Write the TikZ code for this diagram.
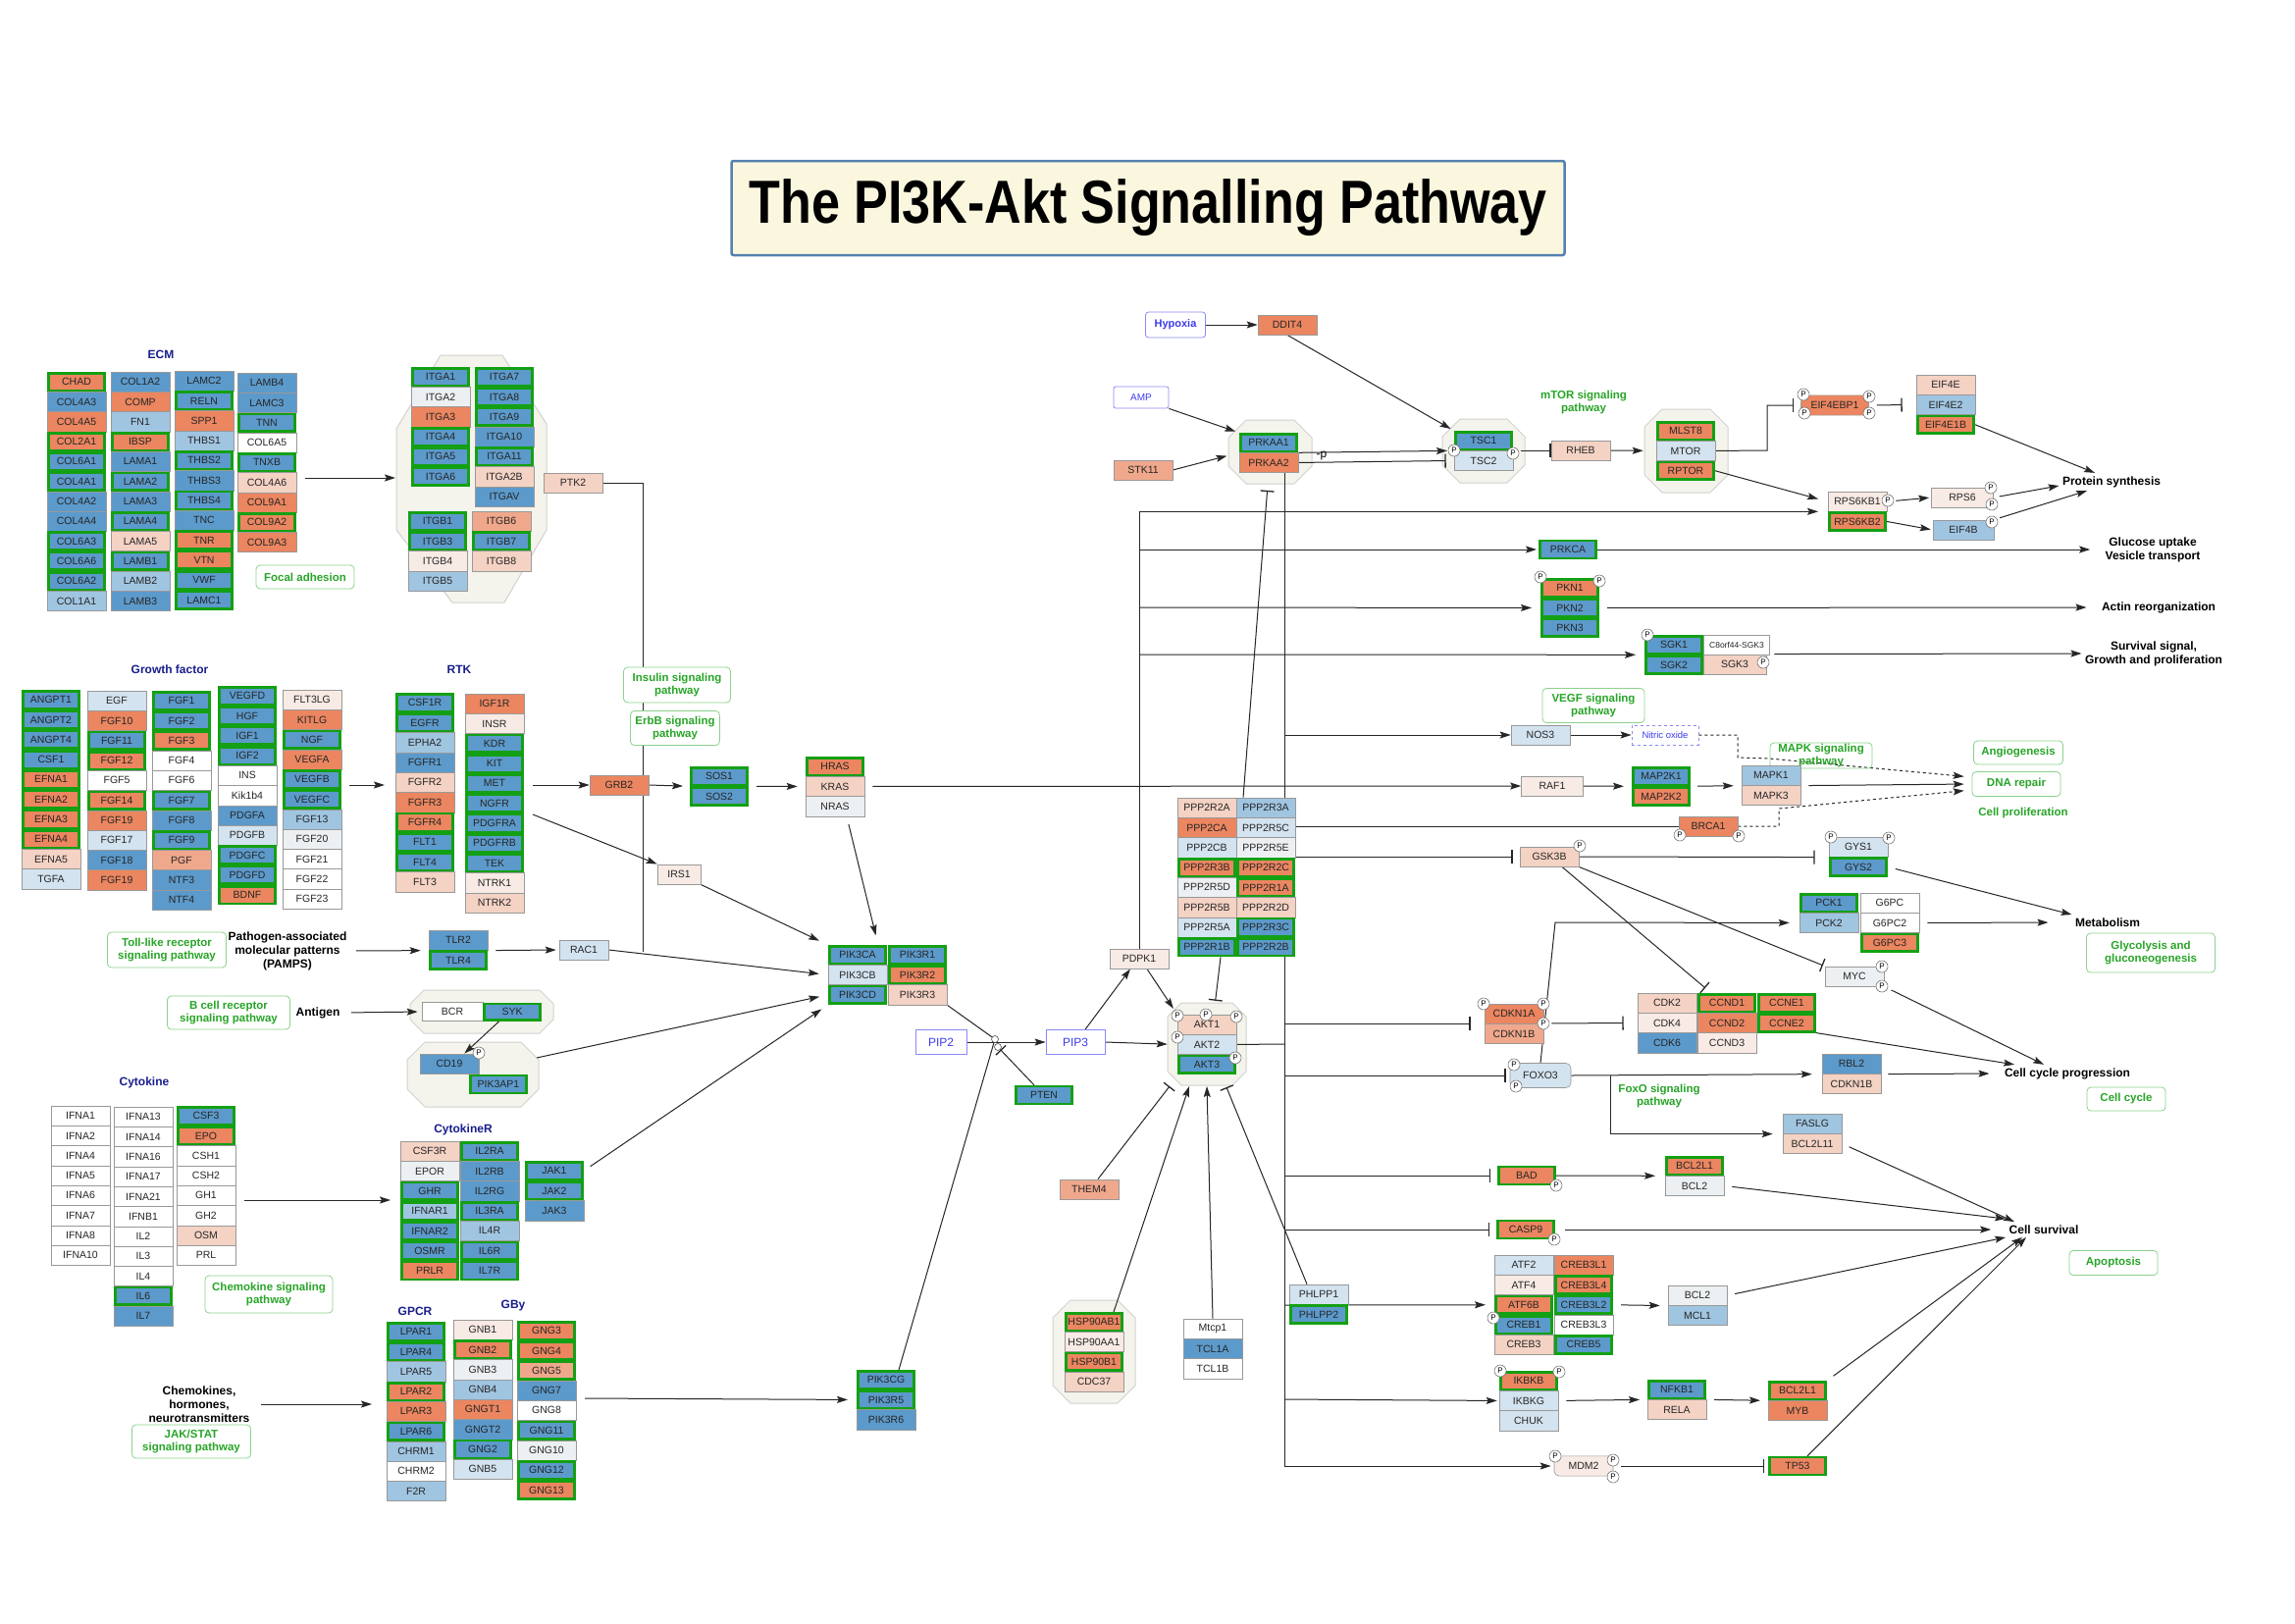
\documentclass[tikz,border=0pt]{standalone}
\usepackage{fontspec}
\setmainfont{Liberation Sans}
\usepackage{graphicx}
\usetikzlibrary{arrows.meta,positioning}
\definecolor{cbl}{RGB}{92,154,203}
\definecolor{clb}{RGB}{160,197,225}
\definecolor{cpb}{RGB}{211,227,239}
\definecolor{cvb}{RGB}{236,240,243}
\definecolor{cor}{RGB}{235,134,96}
\definecolor{cso}{RGB}{240,168,140}
\definecolor{cpk}{RGB}{244,210,196}
\definecolor{cvp}{RGB}{248,234,228}
\definecolor{cwh}{RGB}{255,255,255}
\definecolor{kgreen}{RGB}{20,160,20}
\definecolor{pwgreen}{RGB}{40,165,40}
\definecolor{pwedge}{RGB}{140,210,140}
\definecolor{navy}{RGB}{25,30,140}
\definecolor{molblue}{RGB}{60,60,235}
\definecolor{cream}{RGB}{244,243,236}
\definecolor{titlebg}{RGB}{250,247,222}
\definecolor{titleedge}{RGB}{84,128,176}
\pgfdeclarelayer{back}
\pgfdeclarelayer{lines}
\pgfsetlayers{back,lines,main}
% a column of gene boxes: [prefix]{x}{top}{name/colour/greenframe,...}
\newcommand\gstack[4][]{%
  \foreach \g/\c/\f [count=\i from 0] in {#4} {%
    \ifnum\f=1
      \node[gene, fill=\c, gf] (#1\g) at (#2, #3+10.15+\i*20.3) {\g};
    \else
      \node[gene, fill=\c] (#1\g) at (#2, #3+10.15+\i*20.3) {\g};
    \fi}}
% chamfered complex outline
\newcommand\cplx[5]{\draw[cplxs] (#1+#5,#2) -- (#3-#5,#2) -- (#3,#2+#5) -- (#3,#4-#5) -- (#3-#5,#4) -- (#1+#5,#4) -- (#1,#4-#5) -- (#1,#2+#5) -- cycle;}

\begin{document}
\begin{tikzpicture}[x=1pt, y=-1pt,
  gene/.style={draw=black!40, line width=0.6pt, minimum width=60pt, minimum height=20.3pt, inner sep=0pt, text=black!85, font=\fontsize{10.5}{12}\selectfont},
  gf/.style={draw=kgreen, line width=2.6pt, minimum width=57.4pt, minimum height=17.7pt},
  pc/.style={circle, draw=black!55, fill=white, line width=0.6pt, inner sep=0pt, minimum size=12pt, font=\fontsize{8}{8}\selectfont},
  jc/.style={circle, draw=black!70, fill=white, line width=0.6pt, inner sep=0pt, minimum size=7pt},
  grp/.style={text=navy, font=\fontsize{12}{14}\selectfont\bfseries},
  pw/.style={draw=pwedge, line width=0.8pt, rounded corners=4pt, fill=white, text=pwgreen, align=center, inner sep=0pt, font=\fontsize{11.5}{13.5}\selectfont\bfseries},
  pwt/.style={text=pwgreen, align=center, font=\fontsize{11.5}{13.5}\selectfont\bfseries},
  outc/.style={align=center, font=\fontsize{12}{14}\selectfont\bfseries},
  mol/.style={draw=molblue!60, line width=0.8pt, fill=white, text=molblue, inner sep=0pt, font=\fontsize{11}{13}\selectfont},
  cplxs/.style={fill=cream, draw=black!18, line width=1pt},
  arr/.style={-{Stealth[length=11pt, width=7pt, inset=2pt]}, line width=1pt, draw=black!85},
  inh/.style={-{Bar[width=14pt, line width=1.3pt]}, line width=1pt, draw=black!85},
  ln/.style={line width=1pt, draw=black!85}]
\useasboundingbox (0,0) rectangle (2339,1654);

% complexes
\begin{pgfonlayer}{back}
\fill[white] (0,0) rectangle (2339,1654);
\draw[cplxs] (449,362) -- (512,362) -- (557,432) -- (557,540) -- (514,614) -- (461,614) -- (404,540) -- (404,437) -- cycle;
\cplx{418}{1009}{564}{1053}{14}
\cplx{415}{1062}{549}{1128}{18}
\cplx{1252}{428}{1337}{493}{18}
\cplx{1470}{427}{1554}{492}{18}
\cplx{1676}{417}{1761}{502}{18}
\cplx{1073}{1325}{1157}{1430}{18}
\cplx{1190}{1022}{1270}{1106}{14}
\end{pgfonlayer}

% title
\node[draw=titleedge, line width=2.5pt, fill=titlebg, minimum width=849pt, minimum height=96pt, rounded corners=2pt] (title) at (1170,212) {\scalebox{0.84}[1]{\fontsize{62}{70}\selectfont\bfseries The PI3K-Akt Signalling Pathway}};

% group labels
\node[grp] (ecmlab) at (164,361) {ECM};
\node[grp] (gflab) at (173,682) {Growth factor};
\node[grp] (rtklab) at (468,682) {RTK};
\node[grp] (cytlab) at (147,1103) {Cytokine};
\node[grp] (cytrlab) at (472,1151) {CytokineR};
\node[grp] (gpcrlab) at (423,1336) {GPCR};
\node[grp] (gbylab) at (523,1331) {GBy};

% ECM and integrins
\gstack{78}{379}{CHAD/cor/1,COL4A3/cbl/0,COL4A5/cor/0,COL2A1/cor/1,COL6A1/cbl/1,COL4A1/cbl/1,COL4A2/cbl/0,COL4A4/cbl/0,COL6A3/cbl/1,COL6A6/cbl/1,COL6A2/cbl/1,COL1A1/clb/0}
\gstack{143}{379}{COL1A2/cbl/0,COMP/cor/0,FN1/clb/0,IBSP/cor/1,LAMA1/cbl/0,LAMA2/cbl/1,LAMA3/cbl/0,LAMA4/cbl/1,LAMA5/cpk/0,LAMB1/cbl/1,LAMB2/clb/0,LAMB3/cbl/0}
\gstack{208}{378}{LAMC2/cbl/0,RELN/cbl/1,SPP1/cor/0,THBS1/clb/0,THBS2/cbl/1,THBS3/cbl/0,THBS4/cbl/1,TNC/cbl/0,TNR/cor/1,VTN/cor/1,VWF/cbl/1,LAMC1/cbl/1}
\gstack{272}{380}{LAMB4/cbl/0,LAMC3/cbl/0,TNN/cbl/1,COL6A5/cwh/0,TNXB/cbl/1,COL4A6/cpk/0,COL9A1/cor/0,COL9A2/cor/1,COL9A3/cor/0}
\gstack{449}{374}{ITGA1/cbl/1,ITGA2/cvb/0,ITGA3/cor/0,ITGA4/cbl/1,ITGA5/cbl/1,ITGA6/cbl/1}
\gstack{514}{374}{ITGA7/cbl/1,ITGA8/cbl/1,ITGA9/cbl/1,ITGA10/cbl/0,ITGA11/cbl/1,ITGA2B/cpk/0,ITGAV/cbl/0}
\gstack{446}{521}{ITGB1/cbl/1,ITGB3/cbl/1,ITGB4/cvp/0,ITGB5/clb/0}
\gstack{511}{521}{ITGB6/cso/0,ITGB7/cbl/1,ITGB8/cpk/0}
\node[gene, fill=cpk] (PTK2) at (584,492) {PTK2};
\node[pw, minimum width=100pt, minimum height=24pt] (focal) at (311,588) {Focal adhesion};

% growth factors and RTK
\gstack{52}{703}{ANGPT1/cbl/1,ANGPT2/cbl/1,ANGPT4/cbl/1,CSF1/cbl/1,EFNA1/cor/1,EFNA2/cor/1,EFNA3/cor/1,EFNA4/cor/1,EFNA5/cpk/0,TGFA/cpb/0}
\gstack{119}{704}{EGF/cpb/0,FGF10/cor/0,FGF11/cbl/1,FGF12/cor/1,FGF5/cwh/0,FGF14/cor/1,FGF19/cor/0,FGF17/cpb/0,FGF18/cbl/0,FGF19/cor/0}
\gstack{185}{704}{FGF1/cbl/1,FGF2/cbl/1,FGF3/cor/1,FGF4/cwh/0,FGF6/cwh/0,FGF7/cbl/1,FGF8/cbl/0,FGF9/cbl/1,PGF/cso/0,NTF3/cbl/0,NTF4/cbl/0}
\gstack{252}{699}{VEGFD/cbl/1,HGF/cbl/1,IGF1/cbl/1,IGF2/cbl/1,INS/cwh/0,Kik1b4/cwh/0,PDGFA/cbl/0,PDGFB/cpb/0,PDGFC/cbl/1,PDGFD/cbl/1,BDNF/cor/1}
\gstack{318}{703}{FLT3LG/cvp/0,KITLG/cor/0,NGF/cbl/1,VEGFA/cor/0,VEGFB/cbl/1,VEGFC/cbl/1,FGF13/clb/0,FGF20/cvb/0,FGF21/cwh/0,FGF22/cwh/0,FGF23/cwh/0}
\gstack{433}{706}{CSF1R/cbl/1,EGFR/cbl/1,EPHA2/clb/0,FGFR1/cbl/0,FGFR2/cpk/0,FGFR3/cor/0,FGFR4/cor/1,FLT1/cbl/1,FLT4/cbl/1,FLT3/cpk/0}
\gstack{504}{707}{IGF1R/cor/0,INSR/cvp/0,KDR/cbl/1,KIT/cbl/1,MET/cbl/1,NGFR/cbl/1,PDGFRA/cbl/1,PDGFRB/cbl/1,TEK/cbl/1,NTRK1/cvp/0,NTRK2/cpk/0}

% Ras / PI3K
\node[gene, fill=cor] (GRB2) at (631,800) {GRB2};
\gstack{733}{781}{SOS1/cbl/1,SOS2/cbl/1}
\gstack{851}{771}{HRAS/cor/1,KRAS/cpk/0,NRAS/cvb/0}
\node[gene, fill=cvp, minimum width=44pt] (IRS1) at (692,891) {IRS1};
\node[pw, minimum width=109pt, minimum height=36pt] (insulin) at (690,698) {Insulin signaling\\pathway};
\node[pw, minimum width=91pt, minimum height=35pt] (erbb) at (688,742) {ErbB signaling\\pathway};
\gstack{874}{963}{PIK3CA/cbl/1,PIK3CB/cpb/0,PIK3CD/cbl/1}
\gstack{935}{963}{PIK3R1/cbl/1,PIK3R2/cor/1,PIK3R3/cpk/0}
\node[mol, minimum width=52pt, minimum height=25pt, font=\fontsize{12}{14}\selectfont] (PIP2) at (959,1062) {PIP2};
\node[mol, minimum width=60pt, minimum height=25pt, font=\fontsize{12}{14}\selectfont] (PIP3) at (1096,1062) {PIP3};
\node[jc] (jn) at (1014,1059) {};
\node[jc] (jn2) at (1017,1067) {};
\node[gene, fill=cbl, gf] (PTEN) at (1064,1116) {PTEN};
\node[gene, fill=cvp] (PDPK1) at (1161,977) {PDPK1};

% TLR, BCR, cytokines
\node[pw, minimum width=121pt, minimum height=36pt] (tlrpw) at (170,968) {Toll-like receptor\\signaling pathway};
\node[outc] (pamps) at (293,969) {Pathogen-associated\\molecular patterns\\(PAMPS)};
\gstack{467}{948}{TLR2/cbl/0,TLR4/cbl/1}
\node[gene, fill=cpb, minimum width=50pt] (RAC1) at (595,968) {RAC1};
\node[pw, minimum width=125pt, minimum height=34pt] (bcrpw) at (233,1032) {B cell receptor\\signaling pathway};
\node[outc] (antigen) at (324,1032) {Antigen};
\node[gene, fill=cwh, minimum width=62pt, minimum height=19pt] (BCR) at (461,1031) {BCR};
\node[gene, fill=cbl, gf, minimum height=16.4pt] (SYK) at (522,1031) {SYK};
\node[gene, fill=cbl] (CD19) at (458,1084) {CD19};
\node[gene, fill=cbl, gf] (PIK3AP1) at (508,1105) {PIK3AP1};
\gstack{82}{1127}{IFNA1/cwh/0,IFNA2/cwh/0,IFNA4/cwh/0,IFNA5/cwh/0,IFNA6/cwh/0,IFNA7/cwh/0,IFNA8/cwh/0,IFNA10/cwh/0}
\gstack{146}{1128}{IFNA13/cwh/0,IFNA14/cwh/0,IFNA16/cwh/0,IFNA17/cwh/0,IFNA21/cwh/0,IFNB1/cwh/0,IL2/cwh/0,IL3/cwh/0,IL4/cwh/0,IL6/cbl/1,IL7/cbl/0}
\gstack{210}{1127}{CSF3/cbl/1,EPO/cor/1,CSH1/cwh/0,CSH2/cwh/0,GH1/cwh/0,GH2/cwh/0,OSM/cpk/0,PRL/cwh/0}
\node[pw, minimum width=130pt, minimum height=38pt] (chemopw) at (274,1319) {Chemokine signaling\\pathway};
\gstack{438}{1163}{CSF3R/cpk/0,EPOR/cvb/0,GHR/cbl/1,IFNAR1/clb/1,IFNAR2/cbl/1,OSMR/cbl/1,PRLR/cor/1}
\gstack{499}{1163}{IL2RA/cbl/1,IL2RB/cbl/0,IL2RG/cbl/0,IL3RA/cbl/1,IL4R/clb/0,IL6R/cbl/1,IL7R/cbl/1}
\gstack{565}{1183}{JAK1/cbl/1,JAK2/cbl/1,JAK3/cbl/0}

% GPCR
\node[outc] (chemo) at (203,1431) {Chemokines,\\hormones,\\neurotransmitters};
\node[pw, minimum width=121pt, minimum height=34pt] (jakpw) at (195,1469) {JAK/STAT\\signaling pathway};
\gstack{424}{1347}{LPAR1/cbl/1,LPAR4/cbl/1,LPAR5/clb/0,LPAR2/cor/1,LPAR3/cor/0,LPAR6/cbl/1,CHRM1/clb/0,CHRM2/cwh/0,F2R/clb/0}
\gstack{492}{1345}{GNB1/cvp/0,GNB2/cor/1,GNB3/cvb/0,GNB4/clb/0,GNGT1/cor/0,GNGT2/cbl/0,GNG2/cbl/1,GNB5/cpb/0}
\gstack{557}{1346}{GNG3/cor/1,GNG4/cor/1,GNG5/cso/1,GNG7/cbl/0,GNG8/cwh/0,GNG11/cbl/1,GNG10/cvb/0,GNG12/cbl/1,GNG13/cor/1}
\gstack{903}{1396}{PIK3CG/cbl/1,PIK3R5/cbl/1,PIK3R6/cbl/0}

% AMPK / mTOR
\node[mol, minimum width=61pt, minimum height=26pt, rounded corners=3pt, font=\fontsize{11}{13}\selectfont\bfseries] (hypoxia) at (1198,331) {Hypoxia};
\node[gene, fill=cor] (DDIT4) at (1312,331) {DDIT4};
\node[mol, minimum width=56pt, minimum height=22pt, rounded corners=2pt, font=\fontsize{10}{12}\selectfont] (AMP) at (1163,405) {AMP};
\node[gene, fill=cso] (STK11) at (1165,479) {STK11};
\gstack{1293}{441}{PRKAA1/cbl/1,PRKAA2/cor/0}
\gstack{1512}{439}{TSC1/cbl/1,TSC2/cpb/0}
\node[pwt] (mtorpw) at (1614,410) {mTOR signaling\\pathway};
\node[gene, fill=cpk] (RHEB) at (1611,459) {RHEB};
\gstack{1718}{429}{MLST8/cor/1,MTOR/cpb/0,RPTOR/cor/1}
\node[gene, fill=cor, minimum width=69pt, rounded corners=7pt] (EIF4EBP1) at (1870,413) {EIF4EBP1};
\gstack{1983}{382}{EIF4E/cpk/0,EIF4E2/clb/0,EIF4E1B/cor/1}
\gstack{1893}{501}{RPS6KB1/cvp/0,RPS6KB2/cor/1}
\node[gene, fill=cvp, minimum width=63pt] (RPS6) at (2000,507) {RPS6};
\node[gene, fill=clb, minimum width=62pt] (EIF4B) at (2001,540) {EIF4B};

% PDPK1 targets
\node[gene, fill=cbl, gf] (PRKCA) at (1598,560) {PRKCA};
\gstack{1600}{589}{PKN1/cor/1,PKN2/cbl/1,PKN3/cbl/1}
\gstack{1706}{647}{SGK1/cbl/1,SGK2/cbl/1}
\node[gene, fill=cwh, minimum width=67pt, font=\fontsize{8.5}{10}\selectfont] (C8orf44) at (1770,657) {C8orf44-SGK3};
\node[gene, fill=cpk, minimum width=64pt] (SGK3) at (1768,677) {SGK3};

% middle right
\node[pw, minimum width=104pt, minimum height=35pt] (vegfpw) at (1624,719) {VEGF signaling\\pathway};
\node[gene, fill=cpb] (NOS3) at (1570,749) {NOS3};
\node[mol, dashed, minimum width=68pt, minimum height=20pt, font=\fontsize{9.5}{11}\selectfont] (NO) at (1697,749) {Nitric oxide};
\node[pw, fill=none, minimum width=104pt, minimum height=26pt] (mapkpw) at (1856,770) {MAPK signaling\\pathway};
\node[gene, fill=cvp, minimum width=63pt] (RAF1) at (1582,801) {RAF1};
\gstack{1693}{781}{MAP2K1/cbl/1,MAP2K2/cor/1}
\gstack{1805}{780}{MAPK1/clb/0,MAPK3/cpk/0}
\node[pw, minimum width=91pt, minimum height=24pt] (angio) at (2057,767) {Angiogenesis};
\node[pw, minimum width=90pt, minimum height=25pt] (dna) at (2055,799) {DNA repair};
\node[pwt] (prolif) at (2062,829) {Cell proliferation};
\node[gene, fill=cor] (BRCA1) at (1741,842) {BRCA1};
\gstack{1230}{813}{PPP2R2A/cpk/0,PPP2CA/cor/0,PPP2CB/cpb/0,PPP2R3B/cor/1,PPP2R5D/cvb/0,PPP2R5B/cpk/0,PPP2R5A/cpb/0,PPP2R1B/cbl/1}
\gstack{1290}{813}{PPP2R3A/clb/0,PPP2R5C/cpb/0,PPP2R5E/cvb/0,PPP2R2C/cor/1,PPP2R1A/cor/1,PPP2R2D/cpk/0,PPP2R3C/cbl/1,PPP2R2B/cbl/1}
\node[gene, fill=cpk] (GSK3B) at (1579,873) {GSK3B};
\gstack{1894}{853}{GYS1/cpb/0,GYS2/cbl/1}
\gstack{1864}{910}{PCK1/cbl/1,PCK2/clb/0}
\gstack{1926}{910}{G6PC/cwh/0,G6PC2/cwh/0,G6PC3/cor/1}
\node[pw, minimum width=131pt, minimum height=40pt] (glyco) at (2192,971) {Glycolysis and\\gluconeogenesis};
\node[gene, fill=cvb] (MYC) at (1890,995) {MYC};
\gstack{1543}{1023}{CDKN1A/cor/0,CDKN1B/cso/0}
\gstack{1699}{1012}{CDK2/cpk/0,CDK4/cvp/0,CDK6/cbl/0}
\gstack{1760}{1012}{CCND1/cor/1,CCND2/cor/0,CCND3/cvp/0}
\gstack{1821}{1012}{CCNE1/cor/1,CCNE2/cor/1}
\gstack{1230}{1034}{AKT1/cpk/0,AKT2/cpb/0,AKT3/cbl/1}
\node[gene, fill=cpb, minimum width=62pt, minimum height=25pt, rounded corners=5pt] (FOXO3) at (1570,1096) {FOXO3};
\node[pwt] (foxopw) at (1691,1117) {FoxO signaling\\pathway};
\gstack[r]{1887}{1074}{RBL2/cbl/0,CDKN1B/cpk/0}
\node[pw, minimum width=80pt, minimum height=24pt] (ccycle) at (2167,1120) {Cell cycle};
\gstack{1847}{1135}{FASLG/clb/0,BCL2L11/cpk/0}

% lower middle
\node[gene, fill=cso] (THEM4) at (1110,1212) {THEM4};
\gstack{1115}{1337}{HSP90AB1/cor/1,HSP90AA1/cvp/0,HSP90B1/cor/1,CDC37/cpk/0}
\gstack{1236}{1344}{Mtcp1/cwh/0,TCL1A/cbl/0,TCL1B/cwh/0}
\gstack{1344}{1309}{PHLPP1/cpb/0,PHLPP2/cbl/1}
\node[gene, fill=cor, gf] (BAD) at (1556,1198) {BAD};
\node[gene, fill=cor, gf] (CASP9) at (1555,1253) {CASP9};
\gstack{1553}{1279}{ATF2/cpb/0,ATF4/cvp/0,ATF6B/cor/1,CREB1/cbl/1,CREB3/cpk/0}
\gstack{1614}{1279}{CREB3L1/cor/0,CREB3L4/cor/1,CREB3L2/cbl/1,CREB3L3/cwh/0,CREB5/cbl/1}
\gstack{1558}{1397}{IKBKB/cor/1,IKBKG/cpb/0,CHUK/cpb/0}
\gstack{1709}{1406}{NFKB1/cbl/1,RELA/cpk/0}
\node[gene, fill=cvp, rounded corners=5pt] (MDM2) at (1614,1494) {MDM2};
\gstack[a]{1727}{1178}{BCL2L1/cor/1,BCL2/cvb/0}
\gstack[b]{1730}{1310}{BCL2/cvb/0,MCL1/clb/0}
\gstack[c]{1832}{1407}{BCL2L1/cor/1,MYB/cor/0}
\node[gene, fill=cor, gf] (TP53) at (1832,1494) {TP53};
\node[pw, minimum width=90pt, minimum height=25pt] (apop) at (2154,1287) {Apoptosis};

% outcomes
\node[outc] (prot) at (2152,491) {Protein synthesis};
\node[outc] (glu) at (2194,560) {Glucose uptake\\Vesicle transport};
\node[outc] (actin) at (2200,619) {Actin reorganization};
\node[outc] (surv) at (2195,666) {Survival signal,\\Growth and proliferation};
\node[outc] (metab) at (2148,940) {Metabolism};
\node[outc] (ccp) at (2107,1094) {Cell cycle progression};
\node[outc] (csurv) at (2083,1253) {Cell survival};

% phosphorylation marks
\foreach \px/\py [count=\k] in {1200/1035,1229/1034,1260/1036,1200/1057,1259/1078,1482/459,1542/462,1838/402,1839/421,1905/404,1905/421,1924/510,2029/497,2030/514,2030/532,1570/588,1630/592,1679/647,1797/675,1712/851,1772/852,1610/862,1866/853,1925/854,1918/985,1918/1005,1512/1023,1573/1023,1573/1043,1543/1085,1545/1107,1586/1208,1584/1263,1522/1343,1529/1397,1589/1398,1585/1484,1644/1488,1644/1505,488/1073}
  \node[pc] (p\k) at (\px,\py) {P};

% free ends and bus points
\coordinate (ecmout) at (311,487);
\coordinate (itgin) at (403,487);
\coordinate (gfout) at (356,800);
\coordinate (rtkin) at (392,800);
\coordinate (rtkout) at (543,800);
\coordinate (rtkout2) at (543,830);
\coordinate (ptkdn) at (655,492);
\coordinate (ptkj) at (655,970.4);
\coordinate (cd19out) at (547,1078);
\coordinate (cytout) at (249,1223);
\coordinate (cytrin) at (398,1223);
\coordinate (gbout) at (596,1425);
\coordinate (gpcrin) at (379,1431);
\coordinate (b1) at (1161,560);
\coordinate (b2) at (1161,619);
\coordinate (b3) at (1161,667);
\coordinate (m1) at (1801,459);
\coordinate (bus0) at (1309,481);
\coordinate (bus1) at (1309,1494);
\coordinate (busA) at (1309,1064);
\coordinate (bn) at (1309,749);
\coordinate (bb) at (1320,842);
\coordinate (bg) at (1320,873);
\coordinate (bq) at (1309,1043);
\coordinate (bf) at (1309,1096);
\coordinate (bd) at (1309,1198);
\coordinate (bk) at (1309,1253);
\coordinate (bc) at (1309,1330);
\coordinate (bi) at (1309,1426);
\coordinate (no1) at (1771,749);
\coordinate (no2) at (1771,772);
\coordinate (no3) at (1803,773);
\coordinate (br1) at (1813,842);
\coordinate (br2) at (1813,824);
\coordinate (fx) at (1585,940);
\coordinate (fj) at (1641,1096);
\coordinate (akta) at (1192,1107);
\coordinate (aktb) at (1212,1107);
\coordinate (aktc) at (1230,1107);
\coordinate (aktd) at (1250,1108);

\begin{pgfonlayer}{lines}
\draw[arr] (ecmout) -- (itgin);
\draw[ln] (PTK2.east) -- (ptkdn) -- (ptkj);
\draw[arr] (gfout) -- (rtkin);
\draw[arr] (rtkout) -- (GRB2.west);
\draw[arr] (rtkout2) -- (IRS1.north west);
\draw[arr, shorten >=7pt] (GRB2.east) -- (SOS1.south west);
\draw[arr, shorten <=8pt, shorten >=8pt] (SOS1.south east) -- (KRAS.west);
\draw[arr, shorten <=8pt] (KRAS.east) -- (RAF1.west);
\draw[arr, shorten <=8pt, shorten >=10pt] ([xshift=12pt]NRAS.south) -- ([xshift=-10pt]PIK3R1.north west);
\draw[arr, shorten >=10pt] (IRS1.south east) -- (PIK3CA.north west);
\draw[arr, shorten >=9pt] (RAC1.east) -- (PIK3CB.west);
\draw[arr, shorten >=9pt] (cd19out) -- (PIK3CD.west);
\draw[arr, shorten <=8pt, shorten >=8pt] (JAK1.east) -- (PIK3CD.south west);
\draw[arr] (cytout) -- (cytrin);
\draw[arr, shorten <=6pt, shorten >=8pt] (pamps.east) -- (TLR2.south west);
\draw[arr, shorten <=8pt, shorten >=3pt] (TLR2.south east) -- (RAC1.west);
\draw[arr, shorten <=8pt, shorten >=4pt] (antigen.east) -- (BCR.west);
\draw[arr] ([xshift=-13pt]SYK.south) -- ([xshift=-15pt]CD19.north east);
\draw[arr, shorten >=9pt] (gbout) -- (PIK3R5.west);
\draw[arr, shorten <=8pt] (chemo.east) -- (gpcrin);
\draw[ln] ([xshift=13pt]PIK3CG.north) -- (jn);
\draw[ln] (PIK3R3.south east) -- (jn);
\draw[arr] (PIP2.east) -- (PIP3.west);
\draw[inh] ([xshift=-10pt]PTEN.north) -- (jn2);
\draw[arr] ([xshift=10pt]PIP3.north) -- ([xshift=-9pt]PDPK1.south);
\draw[arr, shorten >=10pt] (PIP3.east) -- (AKT2.west);
\draw[arr, shorten >=7pt] ([xshift=8pt]PDPK1.south) -- (AKT1.north west);
\draw[arr, shorten >=10pt] (PDPK1.north) |- (RPS6KB2.north west);
\draw[arr, shorten >=2pt] (b1) -- (PRKCA.west);
\draw[arr, shorten >=9pt] (b2) -- (PKN2.west);
\draw[arr, shorten >=9pt] (b3) -- (SGK2.north west);
\draw[arr, shorten >=12pt] (PRKCA.east) -- (glu.west);
\draw[arr, shorten <=8pt, shorten >=12pt] (PKN2.east) -- (actin.west);
\draw[arr, shorten <=8pt] (SGK3.north east) -- (surv.west);
\draw[inh, shorten >=7pt] (MTOR.east) -- (m1) |- (EIF4EBP1.west);
\draw[inh, shorten <=8pt, shorten >=14pt] (EIF4EBP1.east) -- (EIF4E2.west);
\draw[arr] (EIF4E1B.east) -- ([xshift=-17pt]prot.north);
\draw[arr, shorten >=10pt] (RPTOR.east) -- (RPS6KB1.west);
\draw[arr, shorten <=9pt, shorten >=2pt] (RPS6KB1.east) -- (RPS6.west);
\draw[arr, shorten >=2pt] (RPS6KB2.east) -- (EIF4B.west);
\draw[arr, shorten <=6pt] (RPS6.east) -- ([yshift=-4pt]prot.west);
\draw[arr, shorten <=6pt] (EIF4B.north east) -- ([xshift=-25pt]prot.south);
\draw[arr] (hypoxia.east) -- (DDIT4.west);
\draw[arr, shorten >=4pt] (DDIT4.south) -- (TSC1.north west);
\draw[arr, shorten >=4pt] (AMP.south east) -- (PRKAA1.north west);
\draw[arr, shorten >=13pt] (STK11.east) -- (PRKAA1.south west);
\draw[arr, shorten >=7pt] (PRKAA1.south east) -- (TSC1.south west);
\draw[inh, shorten >=8pt] (PRKAA2.east) -- (TSC2.west) node[pos=0.15, above=-2pt, font=\fontsize{12}{12}\selectfont] (plab) {-p};
\draw[inh, shorten <=8pt] (TSC2.north east) -- (RHEB.west);
\draw[arr, shorten >=13pt] (RHEB.east) -- (MTOR.west);
\draw[inh, shorten >=18pt] ([xshift=-23pt]PPP2R3A.north) -- (PRKAA2.south);
\draw[ln] (bus0) -- (bus1);
\draw[ln] (AKT2.east) -- (busA);
\draw[arr] (bn) -- (NOS3.west);
\draw[arr] (NOS3.east) -- (NO.west);
\draw[arr, dashed, shorten >=8pt] (NO.east) -- (no1) -- (no2) -- (no3) -- ([yshift=7pt]dna.west);
\draw[arr, shorten <=8pt, shorten >=8pt] (MAPK1.south east) -- (dna.west);
\draw[arr, dashed, shorten >=8pt] (BRCA1.east) -- (br1) -- (br2) -- ([yshift=-6pt]dna.west);
\draw[arr, shorten <=7pt, shorten >=8pt] (MAP2K1.south east) -- (MAPK1.south west);
\draw[arr, shorten >=8pt] (RAF1.east) -- (MAP2K1.south west);
\draw[ln] (bb) -- (BRCA1.west);
\draw[inh, shorten >=7pt] (bg) -- (GSK3B.west);
\draw[inh, shorten >=14pt] (GSK3B.east) -- (GYS1.south west);
\draw[inh, shorten >=8pt] ([xshift=13pt]GSK3B.south) -- ([xshift=-16pt]CCND1.north);
\draw[inh, shorten >=2pt] (GSK3B.south east) -- (MYC.north west);
\draw[arr, shorten <=8pt] (GYS2.east) -- (metab.north west);
\draw[arr, shorten >=10pt] (FOXO3.north) -- (fx) -- (PCK2.west);
\draw[arr, shorten <=8pt, shorten >=24pt] (G6PC2.east) -- (metab.west);
\draw[arr, shorten <=8pt] (MYC.south east) -- ([xshift=-24pt]ccp.north);
\draw[arr] (CCNE2.south east) -- ([xshift=-54pt]ccp.north);
\draw[arr, shorten <=7pt, shorten >=12pt] (rRBL2.south east) -- (ccp.west);
\draw[arr, shorten >=10pt] (FOXO3.east) -- (rRBL2.south west);
\draw[arr, shorten >=10pt] (fj) |- (FASLG.south west);
\draw[arr, shorten <=8pt] (BCL2L11.east) -- ([xshift=-30pt]csurv.north);
\draw[arr, shorten <=8pt] (aBCL2.east) -- ([yshift=3pt]csurv.north west);
\draw[arr, shorten <=10pt, shorten >=15pt] (CASP9.east) -- (csurv.west);
\draw[arr, shorten <=8pt] (bBCL2.east) -- (csurv.south west);
\draw[arr, shorten <=8pt] (cBCL2L1.north east) -- ([xshift=-22pt]csurv.south);
\draw[arr] ([xshift=10pt]TP53.north) -- ([xshift=-18pt]csurv.south);
\draw[inh, shorten <=8pt, shorten >=4pt] (MDM2.east) -- (TP53.west);
\draw[arr, shorten >=3pt] (bus1) -- (MDM2.west);
\draw[arr, shorten >=2pt] (bi) -- (IKBKG.west);
\draw[arr, shorten <=8pt, shorten >=8pt] (IKBKG.east) -- (NFKB1.south west);
\draw[arr, shorten <=8pt, shorten >=8pt] (NFKB1.south east) -- (cBCL2L1.south west);
\draw[arr, shorten >=9pt] (bc) -- (ATF6B.west);
\draw[arr, shorten <=8pt, shorten >=8pt] (CREB3L2.east) -- (bBCL2.south west);
\draw[inh, shorten >=7pt] (bk) -- (CASP9.west);
\draw[inh, shorten >=7pt] (bd) -- (BAD.west);
\draw[arr, shorten >=10pt] (BAD.east) -- (aBCL2L1.south west);
\draw[inh, shorten >=14pt] (bq) -- (CDKN1B.north west);
\draw[inh, shorten <=8pt, shorten >=14pt] (CDKN1B.north east) -- (CDK4.west);
\draw[inh, shorten >=4pt] (bf) -- (FOXO3.west);
\draw[inh] ([xshift=9pt]THEM4.north) -- (akta);
\draw[arr] ([xshift=20pt]HSP90AB1.north) -- (aktb);
\draw[arr] (Mtcp1.north) -- (aktc);
\draw[inh] ([xshift=-12pt]PHLPP1.north) -- (aktd);
\draw[inh, shorten >=14pt] ([xshift=14pt]PPP2R1B.south) -- ([xshift=7pt]AKT1.north);
\end{pgfonlayer}
\end{tikzpicture}
\end{document}
